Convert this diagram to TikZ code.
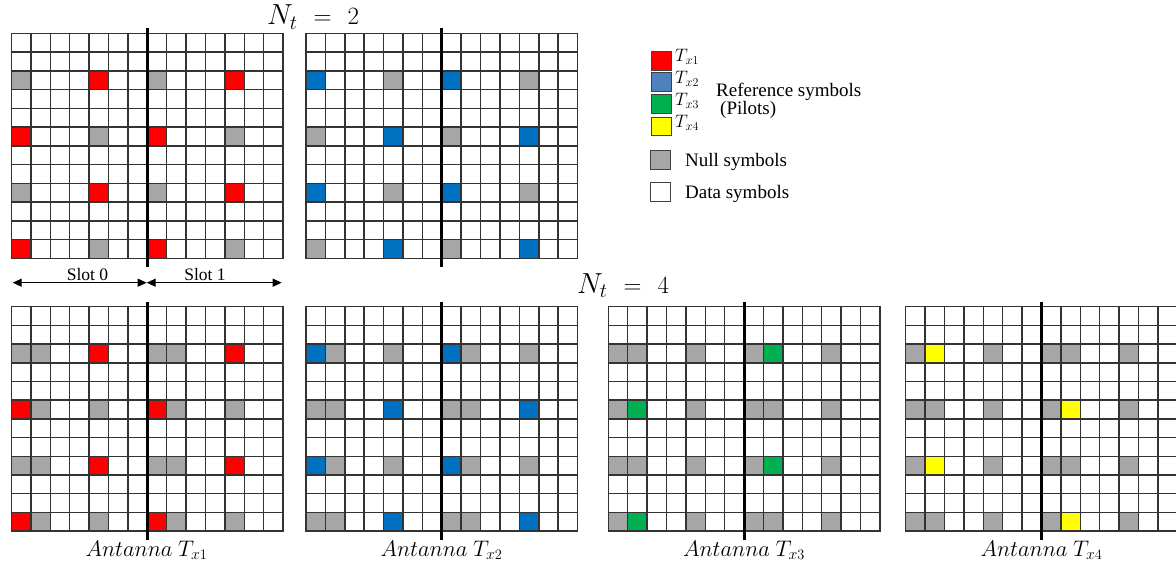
\documentclass[tikz,border=0pt]{standalone}
\usepackage{fontspec}
\setmainfont{Liberation Serif}
\DeclareFontShape{OML}{cmm}{m}{it}{<-8>cmmi7<8-11>cmmi10<11->cmmi12}{}
\DeclareFontShape{OMS}{cmsy}{m}{n}{<-8>cmsy7<8->cmsy10}{}
\usetikzlibrary{arrows.meta}
\definecolor{rsred}{HTML}{FF0000}
\definecolor{rsblue}{HTML}{0070C0}
\definecolor{rslegblue}{HTML}{4F81BD}
\definecolor{rsgreen}{HTML}{00B050}
\definecolor{rsyellow}{HTML}{FFFF00}
\definecolor{rsgray}{HTML}{A6A6A6}
% #1 x, #2 y, #3 cell height, #4 pattern of rows 2 and 8, #5 pattern of rows 5 and 11
\newcommand{\rsgrid}[5]{%
  \begin{scope}[shift={(#1,#2)}]
    \foreach \r in {2,8}{\foreach \c/\k in {#4}{\fill[\k] (\c*19.4,\r*#3) rectangle ++(19.4,#3);}}
    \foreach \r in {5,11}{\foreach \c/\k in {#5}{\fill[\k] (\c*19.4,\r*#3) rectangle ++(19.4,#3);}}
    \foreach \i in {0,...,14}{\draw[gridline] (\i*19.4,0) -- (\i*19.4,12*#3);}
    \foreach \j in {0,...,12}{\draw[gridline] (0,\j*#3) -- (14*19.4,\j*#3);}
    \draw[divider] (7*19.4,-5) -- (7*19.4,12*#3+9);
  \end{scope}}
\begin{document}
\begin{tikzpicture}[x=1pt,y=-1pt,
  gridline/.style={draw=black!80,line width=1.5pt,line cap=rect},
  divider/.style={draw=black,line width=3.2pt},
  legbox/.style={draw=black!75,line width=1pt},
  legtext/.style={inner sep=0pt,font=\fontsize{19}{22}\selectfont},
  leglab/.style={inner sep=0pt,anchor=base west,font=\fontsize{18}{20}\selectfont},
  antlab/.style={inner sep=0pt,anchor=base,font=\fontsize{22.5}{26}\selectfont},
  bigmath/.style={inner sep=0pt,anchor=base,font=\fontsize{29}{32}\selectfont},
  slotlab/.style={inner sep=0pt,anchor=base,font=\fontsize{17.5}{20}\selectfont},
  slotarrow/.style={line width=1.2pt,{Triangle[length=9pt,width=8pt]}-{Triangle[length=9pt,width=8pt]}}]
\clip (0,0) rectangle (1176,572);
\fill[white] (0,0) rectangle (1176,572);

% N_t = 2 grids
\rsgrid{11.5}{33.3}{18.75}{0/rsgray,4/rsred,7/rsgray,11/rsred}{0/rsred,4/rsgray,7/rsred,11/rsgray}
\rsgrid{306}{33.3}{18.75}{0/rsblue,4/rsgray,7/rsblue,11/rsgray}{0/rsgray,4/rsblue,7/rsgray,11/rsblue}

% N_t = 4 grids
\rsgrid{11.5}{306.7}{18.7}{0/rsgray,1/rsgray,4/rsred,7/rsgray,8/rsgray,11/rsred}{0/rsred,1/rsgray,4/rsgray,7/rsred,8/rsgray,11/rsgray}
\rsgrid{306}{306.7}{18.7}{0/rsblue,1/rsgray,4/rsgray,7/rsblue,8/rsgray,11/rsgray}{0/rsgray,1/rsgray,4/rsblue,7/rsgray,8/rsgray,11/rsblue}
\rsgrid{608.3}{306.7}{18.7}{0/rsgray,1/rsgray,4/rsgray,7/rsgray,8/rsgreen,11/rsgray}{0/rsgray,1/rsgreen,4/rsgray,7/rsgray,8/rsgray,11/rsgray}
\rsgrid{905.7}{306.7}{18.7}{0/rsgray,1/rsyellow,4/rsgray,7/rsgray,8/rsgray,11/rsgray}{0/rsgray,1/rsgray,4/rsgray,7/rsgray,8/rsyellow,11/rsgray}

% titles
\node[bigmath] (nt2) at (313,25) {$N_t \;=\; 2$};
\node[bigmath] (nt4) at (623,293.5) {$N_t \;=\; 4$};

% slot arrows
\coordinate (s0l) at (12.7,282.7);
\coordinate (s0r) at (146.7,282.7);
\coordinate (s1r) at (281.7,282.7);
\draw[slotarrow] (s0l) -- (s0r);
\draw[slotarrow] (s0r) -- (s1r);
\node[slotlab] (slot0) at (87.5,280.5) {Slot 0};
\node[slotlab] (slot1) at (205,280.5) {Slot 1};

% antenna labels
\node[antlab] (ant1) at (146.5,556.5) {$Antanna\ T_{x1}$};
\node[antlab] (ant2) at (441.5,556.5) {$Antanna\ T_{x2}$};
\node[antlab] (ant3) at (744,556.5) {$Antanna\ T_{x3}$};
\node[antlab] (ant4) at (1041.5,556.5) {$Antanna\ T_{x4}$};

% legend
\draw[legbox,fill=rsred] (651,51.7) rectangle (671,70.5);
\draw[legbox,fill=rslegblue] (651,72.9) rectangle (671,91.7);
\draw[legbox,fill=rsgreen] (651,95) rectangle (671,114);
\draw[legbox,fill=rsyellow] (651,117.2) rectangle (671,136);
\draw[legbox,fill=rsgray] (650,151) rectangle (670,170);
\draw[legbox,fill=white] (650,182.7) rectangle (670,202);
\node[leglab] (l1) at (675,62) {$T_{x1}$};
\node[leglab] (l2) at (675,84) {$T_{x2}$};
\node[leglab] (l3) at (675,106) {$T_{x3}$};
\node[leglab] (l4) at (675,128) {$T_{x4}$};
\node[legtext,anchor=west] (refs) at (716,91.7) {Reference symbols};
\node[legtext,anchor=west] (pil) at (720,110) {(Pilots)};
\node[legtext,anchor=west] (nulls) at (685,161.7) {Null symbols};
\node[legtext,anchor=west] (datas) at (685,194) {Data symbols};
\end{tikzpicture}
\end{document}
